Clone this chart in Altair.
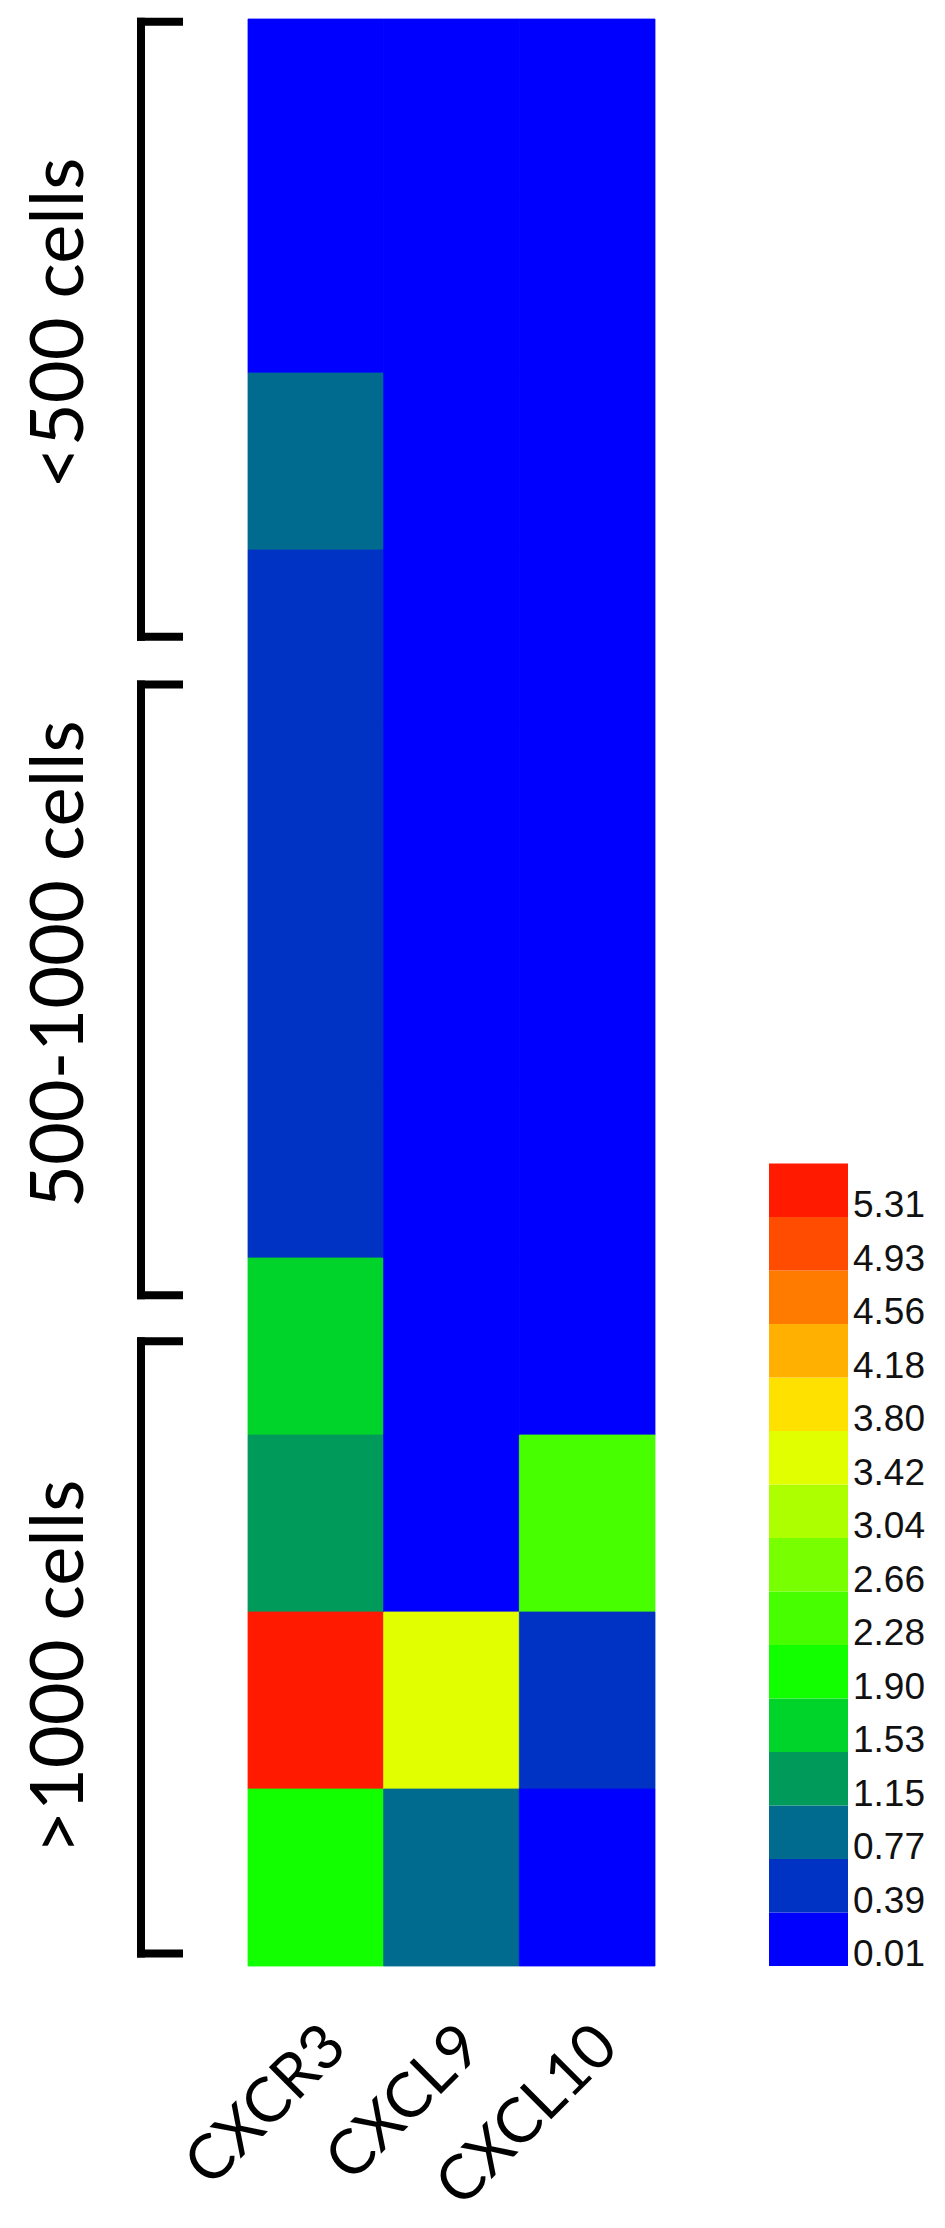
import altair as alt
import pandas as pd

# ---- data ----
genes = ["CXCR3", "CXCL9", "CXCL10"]
# 11 samples (rows, top to bottom)
cxcr3 = [0.10, 0.10, 0.90, 0.50, 0.50, 0.50, 0.50, 1.70, 1.30, 5.40, 2.00]
cxcl9 = [0.05, 0.05, 0.05, 0.05, 0.05, 0.05, 0.05, 0.05, 0.05, 3.50, 0.90]
cxcl10 = [0.05, 0.05, 0.05, 0.05, 0.05, 0.05, 0.05, 0.05, 2.40, 0.50, 0.05]

legend_labels = ["0.01", "0.39", "0.77", "1.15", "1.53", "1.90", "2.28", "2.66",
                 "3.04", "3.42", "3.80", "4.18", "4.56", "4.93", "5.31"]
legend_colors = ["#0000FF", "#0032C3", "#006B8F", "#009B5A", "#00D42A", "#12FF00",
                 "#48FF00", "#78FF00", "#ADFF00", "#E2FF00", "#FFE100", "#FFB000",
                 "#FF7B00", "#FF4C00", "#FF1A00"]

groups = ["<500 cells", "500-1000 cells", ">1000 cells"]
group_start = [0.015, 3.76, 7.47]   # in row units
group_end = [3.49, 7.21, 10.93]
group_mid = [1.72, 5.34, 9.31]

# ---- tables ----
rows = []
for g, vals in zip(genes, [cxcr3, cxcl9, cxcl10]):
    for r, v in enumerate(vals):
        rows.append({"gene": g, "row": r, "row_end": r + 1, "value": v})
df = pd.DataFrame(rows)
n_rows = len(cxcr3)

thresholds = [float(s) for s in legend_labels[1:]]
color_scale = alt.Scale(type="threshold", domain=thresholds, range=legend_colors)

yscale = alt.Scale(domain=[0, n_rows], reverse=True, nice=False, zero=False)

H = 1947

heat = alt.Chart(df).mark_rect(strokeWidth=0.8).encode(
    x=alt.X("gene:N", sort=genes,
            scale=alt.Scale(paddingInner=0, paddingOuter=0),
            axis=alt.Axis(title=None, labelAngle=-45, labelAlign="right",
                          labelBaseline="middle", labelFont="Lato",
                          labelFontSize=62, labelColor="black", labelPadding=70,
                          labelOffset=20, labelLimit=0, domain=False,
                          ticks=False, tickSize=0)),
    y=alt.Y("row:Q", scale=yscale, axis=None),
    y2="row_end:Q",
    color=alt.Color("value:Q", scale=color_scale, legend=None),
    stroke=alt.Color("value:Q", scale=color_scale, legend=None),
).properties(width=407, height=H)

bdf = pd.DataFrame({"group": groups, "start": group_start,
                    "end": group_end, "mid": group_mid})
bbase = alt.Chart(bdf)
vline = bbase.mark_rule(color="black", strokeWidth=8, strokeCap="square").encode(
    x=alt.value(133), y=alt.Y("start:Q", scale=yscale, axis=None), y2="end:Q")
ttick = bbase.mark_rule(color="black", strokeWidth=8, strokeCap="square").encode(
    x=alt.value(133), x2=alt.value(171),
    y=alt.Y("start:Q", scale=yscale, axis=None))
btick = bbase.mark_rule(color="black", strokeWidth=8, strokeCap="square").encode(
    x=alt.value(133), x2=alt.value(171),
    y=alt.Y("end:Q", scale=yscale, axis=None))
glabels = bbase.mark_text(angle=270, font="Lato", fontSize=74,
                          baseline="alphabetic", align="center",
                          color="black").encode(
    x=alt.value(75), y=alt.Y("mid:Q", scale=yscale, axis=None), text="group:N")
left = alt.layer(vline, ttick, btick, glabels).properties(width=240, height=H)

ldf = pd.DataFrame({"label": legend_labels,
                    "lo": [float(s) for s in legend_labels],
                    "i": list(range(len(legend_labels))),
                    "i1": list(range(1, len(legend_labels) + 1))})
lscale = alt.Scale(domain=[0, H / 53.5], nice=False, zero=False)
lboxes = alt.Chart(ldf).mark_rect().encode(
    x=alt.value(114), x2=alt.value(193),
    y=alt.Y("i:Q", scale=lscale, axis=None), y2="i1:Q",
    color=alt.Color("lo:Q", scale=color_scale, legend=None))
ltext = alt.Chart(ldf).mark_text(align="left", baseline="alphabetic",
                                 font="Liberation Sans", fontSize=37,
                                 color="#111111").encode(
    x=alt.value(198), y=alt.Y("i:Q", scale=lscale, axis=None), text="label:N")
legend = alt.layer(lboxes, ltext).properties(width=282, height=H)

chart = alt.hconcat(left, heat, legend, spacing=0, bounds="flush").properties(
    padding={"top": 7, "left": 0, "right": 0, "bottom": 0},
    background="white",
).configure_view(stroke=None)

chart.save("out.html", embed_options={"renderer": "svg", "actions": False})
